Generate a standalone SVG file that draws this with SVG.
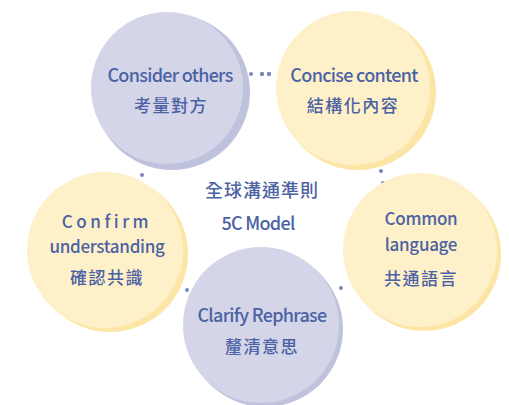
<svg xmlns="http://www.w3.org/2000/svg" width="509" height="405" viewBox="0 0 509 405">
<style>
.pl{fill:#d4d5e8}.ps{fill:#bfc2dc}.yl{fill:#fef1c9}.ys{fill:#fde5a6}
text{font-family:"Noto Sans CJK TC","Noto Sans",sans-serif;fill:#4b62a4;text-anchor:middle;font-size:18px;font-weight:500}
.en{letter-spacing:-0.7px}
.en2{font-size:17px;letter-spacing:-0.3px}
.zh{font-size:17px;letter-spacing:1.5px}
.dot{fill:#7c86bb}
</style>
<rect width="509" height="405" fill="#ffffff"/>
<g id="connectors">
<circle class="dot" cx="251" cy="74" r="2"/>
<circle class="dot" cx="262" cy="74" r="2.2"/>
<circle class="dot" cx="269" cy="74" r="2.2"/>
<circle class="dot" cx="381" cy="171" r="2"/>
<circle class="dot" cx="383" cy="183" r="2"/>
<circle class="dot" cx="142" cy="175" r="2"/>
<circle class="dot" cx="187" cy="290" r="2"/>
<circle class="dot" cx="341" cy="288" r="2"/>
</g>
<g id="consider">
<circle class="ps" cx="172" cy="92" r="78"/>
<circle class="pl" cx="167" cy="88" r="76"/>
<text class="en" x="170" y="82">Consider others</text>
<text class="zh" x="171" y="112">考量對方</text>
</g>
<g id="concise">
<circle class="ys" cx="358" cy="92" r="78"/>
<circle class="yl" cx="353" cy="88" r="77"/>
<text class="en" x="354" y="82">Concise content</text>
<text class="zh" x="353" y="112">結構化內容</text>
</g>
<g id="confirm">
<circle class="ys" cx="110" cy="254" r="78"/>
<circle class="yl" cx="105" cy="250" r="78"/>
<text class="en2" x="107" y="228" style="letter-spacing:3.5px">Confirm</text>
<text class="en2" x="107" y="253">understanding</text>
<text class="zh" x="107" y="284">確認共識</text>
</g>
<g id="common">
<circle class="ys" cx="424" cy="254" r="77"/>
<circle class="yl" cx="420" cy="250" r="77"/>
<text class="en2" x="421" y="225">Common</text>
<text class="en2" x="421" y="251">language</text>
<text class="zh" x="421" y="285">共通語言</text>
</g>
<g id="clarify">
<circle class="ps" cx="265" cy="329" r="78"/>
<circle class="pl" cx="261" cy="325" r="78"/>
<text class="en" x="262" y="322">Clarify Rephrase</text>
<text class="zh" x="262" y="353">釐清意思</text>
</g>
<g id="title">
<text x="262" y="197" style="font-size:18px;letter-spacing:1px">全球溝通準則</text>
<text class="en" x="258" y="230">5C Model</text>
</g>
</svg>
